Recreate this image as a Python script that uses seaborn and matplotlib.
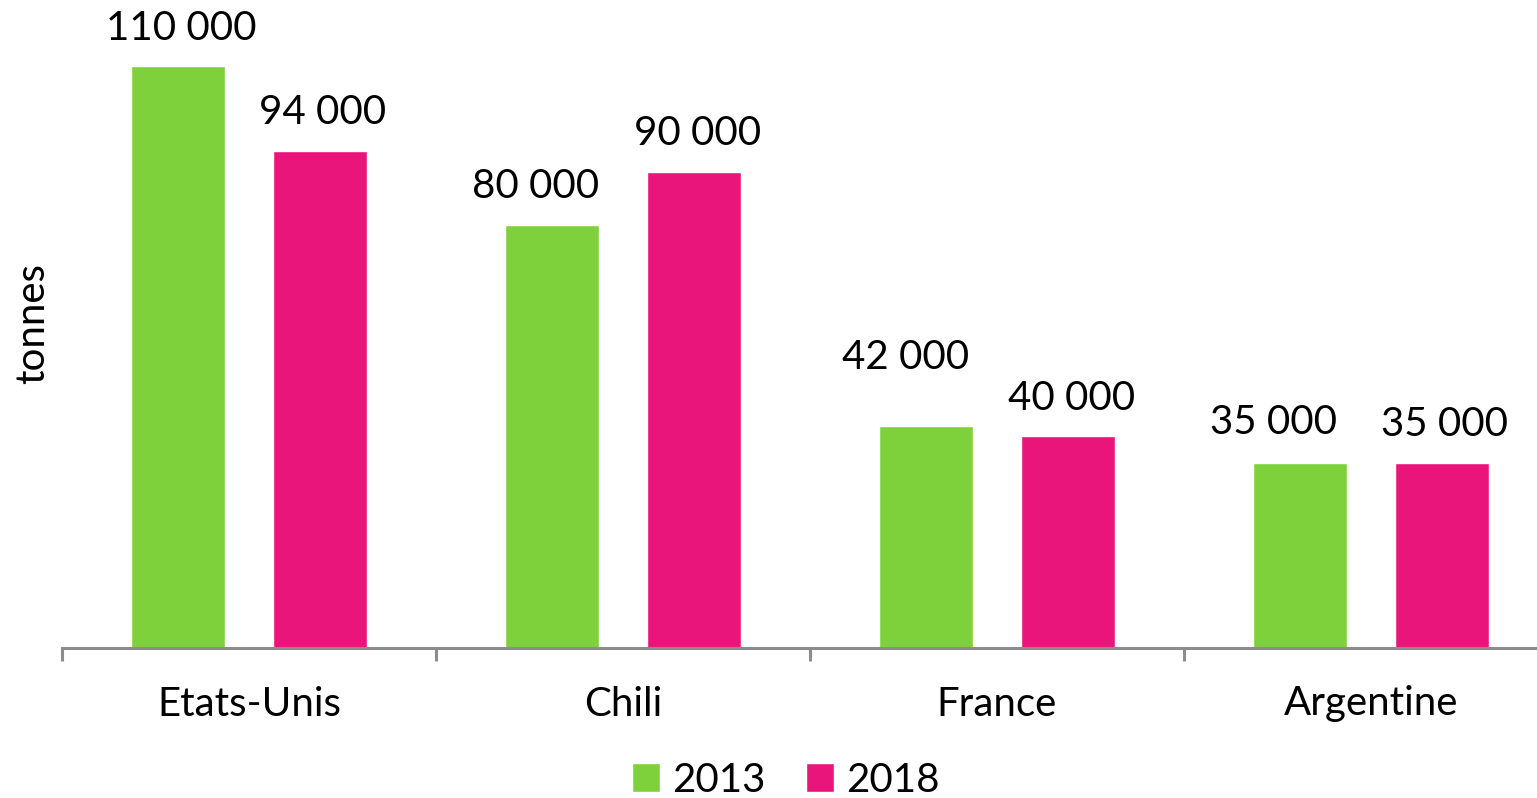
import pandas as pd
import matplotlib.pyplot as plt
import seaborn as sns
from matplotlib.ticker import FixedLocator

# ================= DATA =================
pays = ["Etats-Unis", "Chili", "France", "Argentine"]
annees = ["2013", "2018"]
val_2013 = [110000, 80000, 42000, 35000]
val_2018 = [94000, 90000, 40000, 35000]
couleurs = ["#7FD13B", "#EA157A"]

# label nudges (points) as placed by hand in the original
nudge_2013 = [(2, 0), (-12, 0), (-15, 22), (-19, 2)]
nudge_2018 = [(2, 0), (3, 0), (3, 0), (2, 0)]

df = pd.DataFrame({
    "pays": pays * 2,
    "annee": [annees[0]] * len(pays) + [annees[1]] * len(pays),
    "tonnes": val_2013 + val_2018,
})

sns.set_style("white")
plt.rcParams["font.family"] = ["Lato", "DejaVu Sans"]
plt.rcParams["text.color"] = "black"
plt.rcParams["axes.labelcolor"] = "black"
plt.rcParams["xtick.color"] = "black"
FS = 29

fig = plt.figure(figsize=(15.37, 7.98), dpi=100)
# axes extends a bit past the right edge, like the original export
ax = fig.add_axes([62 / 1537, 1 - 648 / 798, 1496 / 1537, 648 / 798])

sns.barplot(data=df, x="pays", y="tonnes", hue="annee", palette=couleurs,
            width=0.756, gap=0.336, saturation=1, ax=ax, legend=True)

for cont, nudges in zip(ax.containers, [nudge_2013, nudge_2018]):
    for bar, v, (dx, dy) in zip(cont, cont.datavalues, nudges):
        x = bar.get_x() + bar.get_width() / 2
        ax.annotate(f"{int(v):,}".replace(",", " "), (x, v),
                    xytext=(dx, 14 + dy), textcoords="offset points",
                    ha="center", va="bottom", fontsize=FS, color="black")

ax.set_xlim(-0.5, 3.5)
ax.set_ylim(0, 122500)
ax.set_yticks([])
ax.set_xlabel("")
ax.set_ylabel("tonnes", fontsize=FS, labelpad=8, color="black")
for s in ["top", "right", "left"]:
    ax.spines[s].set_visible(False)
ax.spines["bottom"].set_color("#8c8c8c")
ax.spines["bottom"].set_linewidth(2.2)

ax.tick_params(axis="x", which="major", length=0, pad=27, labelsize=FS,
               labelcolor="black")
ax.xaxis.set_minor_locator(FixedLocator([-0.5, 0.5, 1.5, 2.5, 3.5]))
ax.tick_params(axis="x", which="minor", bottom=True, length=9, width=2.2,
               color="#8c8c8c", direction="out")

leg = ax.legend(loc="center", bbox_to_anchor=(786 / 1537, 1 - 780 / 798),
                bbox_transform=fig.transFigure, ncol=2, frameon=False,
                fontsize=FS, handlelength=0.7, handleheight=0.7,
                handletextpad=0.3, columnspacing=1.0)
for t in leg.get_texts():
    t.set_color("black")

fig.savefig("out.png", dpi=100)
